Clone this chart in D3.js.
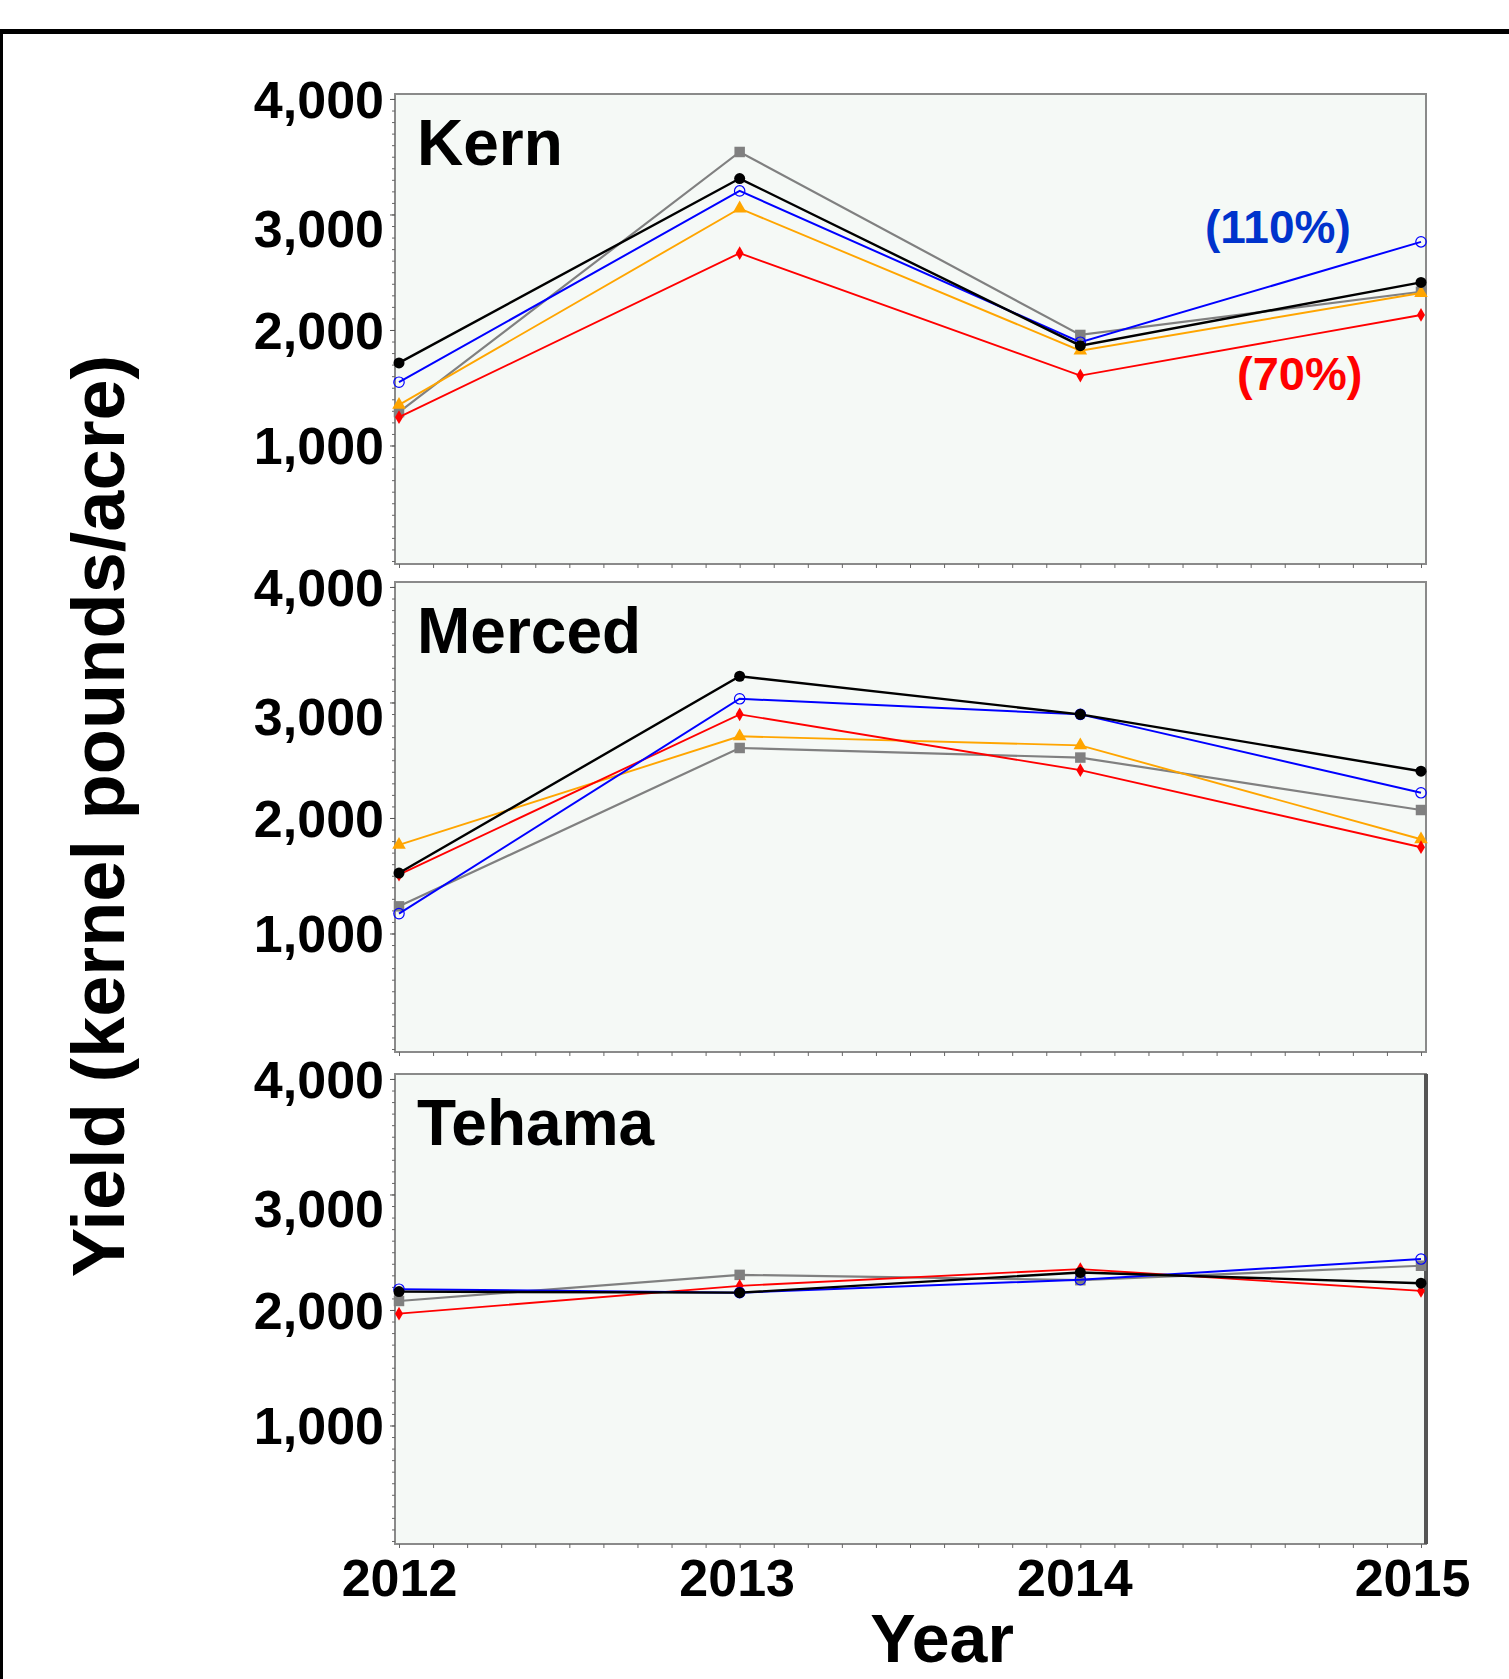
<!DOCTYPE html>
<html>
<head>
<meta charset="utf-8">
<script src="https://cdn.jsdelivr.net/npm/d3@7"></script>
<style>
  body { margin: 0; background: #fff; }
  svg { display: block; font-family: "Liberation Sans", Arial, sans-serif; font-weight: bold; }
</style>
</head>
<body>
<div id="chart"></div>
<script>
// years on the x axis
const years = [2012, 2013, 2014, 2015];
const counties = ["Kern", "Merced", "Tehama"];

// series order: gray square, orange triangle, red diamond, blue open circle, black dot
const seriesKeys = ["gray", "orange", "red", "blue", "black"];

const kernYield = [
    [1289, 3541, 1957, 2331],
    [1352, 3052, 1821, 2320],
    [1245, 2665, 1605, 2130],
    [1548, 3204, 1894, 2763],
    [1715, 3311, 1864, 2412]
];
const mercedYield = [
    [1235, 2606, 2523, 2069],
    [1767, 2707, 2629, 1816],
    [1509, 2897, 2414, 1747],
    [1172, 3032, 2897, 2218],
    [1523, 3227, 2897, 2405]
];
const tehamaYield = [
    [2078, 2304, 2258, 2383],
    null,
    [1968, 2209, 2354, 2165],
    [2180, 2150, 2262, 2441],
    [2159, 2150, 2325, 2232]
];
const yTicks = [1000, 2000, 3000, 4000];

const style = {
    gray:   { color: "#808080", width: 2.2, symbol: d3.symbolSquare,   size: 110, open: false },
    orange: { color: "#ffa500", width: 1.9, symbol: d3.symbolTriangle, size: 80,  open: false },
    red:    { color: "#ff0000", width: 1.9, symbol: d3.symbolDiamond,  size: 55,  open: false },
    blue:   { color: "#0000ff", width: 2,   symbol: d3.symbolCircle,   size: 85,  open: true },
    black:  { color: "#000000", width: 2.4, symbol: d3.symbolCircle,   size: 95,  open: false }
};

const W = 1509, H = 1679;
const left = 395, plotW = 1031, plotH = 470;
const panelTops = [94, 582, 1074];
const tables = [kernYield, mercedYield, tehamaYield];

const svg = d3.select("#chart").append("svg")
    .attr("width", W)
    .attr("height", H);

svg.append("rect").attr("width", W).attr("height", H).attr("fill", "#fff");

// outer border of the figure
svg.append("line").attr("x1", 0).attr("x2", W).attr("y1", 31.5).attr("y2", 31.5)
    .attr("stroke", "#000").attr("stroke-width", 5);
svg.append("line").attr("x1", 1.5).attr("x2", 1.5).attr("y1", 29).attr("y2", H)
    .attr("stroke", "#000").attr("stroke-width", 3);

const x = d3.scaleLinear().domain([2012, 2015]).range([4, 1026]);
const y = d3.scaleLinear().domain([-26, 4043]).range([plotH, 0]);

const minorX = d3.range(0, 31).map(i => 2012 + i / 10);
const minorY = d3.range(0, 41).map(i => i * 100);

counties.forEach((name, p) => {
    const g = svg.append("g")
        .attr("transform", `translate(${left},${panelTops[p]})`);

    g.append("rect")
        .attr("width", plotW)
        .attr("height", plotH)
        .attr("fill", "#f5f9f6")
        .attr("stroke", "#8a8a8a")
        .attr("stroke-width", 2);

    if (p === 2) {
        g.append("line")
            .attr("x1", plotW).attr("x2", plotW)
            .attr("y1", 0).attr("y2", plotH)
            .attr("stroke", "#555").attr("stroke-width", 4);
    }

    // minor ticks
    g.append("g")
        .attr("transform", `translate(0,${plotH})`)
        .call(d3.axisBottom(x).tickValues(minorX).tickSize(4).tickFormat(""))
        .call(a => a.select(".domain").remove())
        .call(a => a.selectAll("line").attr("stroke", "#666"));

    g.append("g")
        .call(d3.axisLeft(y).tickValues(minorY).tickSize(3).tickFormat(""))
        .call(a => a.select(".domain").remove())
        .call(a => a.selectAll("line").attr("stroke", "#666"));

    // labelled y ticks
    g.append("g")
        .call(d3.axisLeft(y).tickValues(yTicks).tickSize(5).tickPadding(6)
            .tickFormat(d3.format(",")))
        .call(a => a.select(".domain").remove())
        .call(a => a.selectAll("line").attr("stroke", "#555"))
        .call(a => a.selectAll("text")
            .attr("fill", "#000")
            .attr("dy", d => d === 3000 ? "0.62em" : "0.35em")
            .style("font-size", "52px")
            .style("font-weight", "bold")
            .style("font-family", "'Liberation Sans', Arial, sans-serif"));

    g.append("text")
        .attr("x", 22)
        .attr("y", 71)
        .style("font-size", "64px")
        .text(name);

    const line = d3.line()
        .x((d, i) => x(years[i]))
        .y(d => y(d));

    tables[p].forEach((vals, s) => {
        if (!vals) return;
        const st = style[seriesKeys[s]];
        g.append("path")
            .datum(vals)
            .attr("fill", "none")
            .attr("stroke", st.color)
            .attr("stroke-width", st.width)
            .attr("d", line);

        g.selectAll(null)
            .data(vals)
            .join("path")
            .attr("transform", (d, i) => `translate(${x(years[i])},${y(d)})`)
            .attr("d", d3.symbol().type(st.symbol).size(st.size))
            .attr("fill", st.open ? "none" : st.color)
            .attr("stroke", st.open ? st.color : "none")
            .attr("stroke-width", 1.2);
    });

    if (p === 0) {
        g.append("text")
            .attr("x", 1205 - left)
            .attr("y", 243 - panelTops[0])
            .attr("fill", "#0033cc")
            .style("font-size", "46px")
            .text("(110%)");
        g.append("text")
            .attr("x", 1237 - left)
            .attr("y", 390 - panelTops[0])
            .attr("fill", "#ff0000")
            .style("font-size", "47px")
            .text("(70%)");
    }

    if (p === 2) {
        g.append("g")
            .attr("transform", `translate(0,${plotH})`)
            .call(d3.axisBottom(x).tickValues(years).tickSize(0).tickPadding(15)
                .tickFormat(d3.format("d")))
            .call(a => a.select(".domain").remove())
            .call(a => a.selectAll("text")
                .attr("fill", "#000")
                .attr("dx", (d, i) => -3 * i)
                .style("font-size", "52px")
                .style("font-weight", "bold")
                .style("font-family", "'Liberation Sans', Arial, sans-serif"));
    }
});

// axis titles
svg.append("text")
    .attr("transform", "translate(124,816) rotate(-90)")
    .attr("text-anchor", "middle")
    .style("font-size", "74px")
    .text("Yield (kernel pounds/acre)");

svg.append("text")
    .attr("x", 942)
    .attr("y", 1662)
    .attr("text-anchor", "middle")
    .style("font-size", "68px")
    .text("Year");
</script>
</body>
</html>
